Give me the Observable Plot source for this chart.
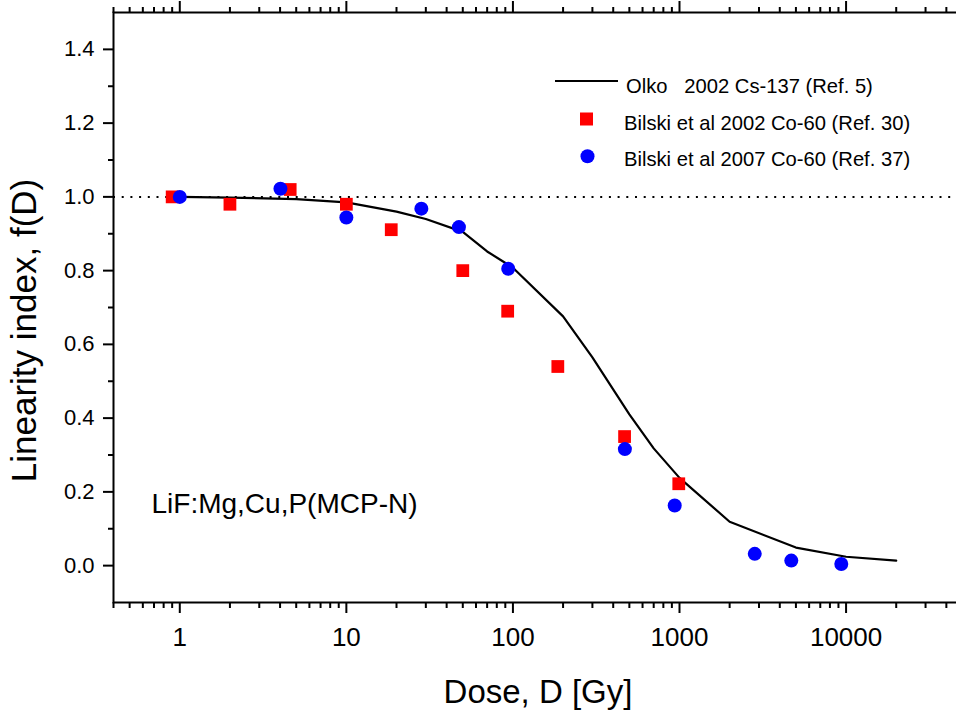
<!DOCTYPE html>
<html><head><meta charset="utf-8">
<script src="https://cdn.jsdelivr.net/npm/d3@7"></script>
<script src="https://cdn.jsdelivr.net/npm/@observablehq/plot@0.6"></script>
<style>
html,body{margin:0;padding:0;background:#fff;overflow:hidden}
#chart svg{display:block;overflow:hidden}
</style></head><body><div id="chart"></div>
<script>
// Olko 2002 Cs-137 (Ref. 5) — curve
const olkoDose = [1, 2, 5, 10, 20, 30, 50, 70, 100, 200, 300, 500, 700, 1000, 2000, 5000, 10000, 20000];
const olkoF    = [1.0, 0.998, 0.994, 0.985, 0.960, 0.940, 0.905, 0.852, 0.808, 0.676, 0.565, 0.41, 0.318, 0.238, 0.119, 0.049, 0.024, 0.0136];
// Bilski et al 2002 Co-60 (Ref. 30) — red squares
const bilski02Dose = [0.9, 2, 4.6, 10, 18.6, 50, 93, 186, 468, 990];
const bilski02F    = [1.0, 0.98, 1.02, 0.98, 0.911, 0.80, 0.69, 0.54, 0.35, 0.222];
// Bilski et al 2007 Co-60 (Ref. 37) — blue circles
const bilski07Dose = [1, 4.02, 10, 28.2, 47.4, 93.7, 470, 936, 2830, 4690, 9360];
const bilski07F    = [1.0, 1.022, 0.944, 0.968, 0.918, 0.805, 0.316, 0.163, 0.032, 0.0136, 0.0046];

const seriesNames = ["Olko   2002 Cs-137 (Ref. 5)", "Bilski et al 2002 Co-60 (Ref. 30)", "Bilski et al 2007 Co-60 (Ref. 37)"];
const xTitle = "Dose, D [Gy]";
const yTitle = "Linearity index, f(D)";
const note = "LiF:Mg,Cu,P(MCP-N)";

const majorX = [1, 10, 100, 1000, 10000];
const majorY = [0, 0.2, 0.4, 0.6, 0.8, 1.0, 1.2, 1.4];
const minorY = [0.1, 0.3, 0.5, 0.7, 0.9, 1.1, 1.3];
const minorX = [];
for (const p of [0.1, 1, 10, 100, 1000, 10000]) for (let m = 2; m <= 9; m++) {
  const v = +(m * p).toPrecision(3);
  if (v >= 0.4 && v <= 50000) minorX.push(v);
}

const olko = olkoDose.map((d, i) => ({dose: d, f: olkoF[i]}));
const b02 = bilski02Dose.map((d, i) => ({dose: d, f: bilski02F[i]}));
const b07 = bilski07Dose.map((d, i) => ({dose: d, f: bilski07F[i]}));

const FONT = "'Liberation Sans', Arial, Helvetica, sans-serif";
const blank = () => "";

const chart = Plot.plot({
  width: 956, height: 715,
  marginLeft: 113, marginRight: -6, marginTop: 12, marginBottom: 113,
  style: {fontFamily: FONT, background: "white", color: "black"},
  x: {type: "log", domain: [0.4, 50000], label: null},
  y: {domain: [-0.1, 1.5], label: null},
  marks: [
    Plot.ruleY([1], {stroke: "black", strokeWidth: 2, strokeDasharray: "2,6.7"}),
    Plot.line(olko, {x: "dose", y: "f", stroke: "black", strokeWidth: 2.2}),
    Plot.dot(b02, {x: "dose", y: "f", symbol: "square", r: 7.2, fill: "#ff0000", stroke: "none"}),
    Plot.dot(b07, {x: "dose", y: "f", symbol: "circle", r: 7, fill: "#0000ff", stroke: "none"}),
    Plot.frame({stroke: "black", strokeWidth: 2}),
    Plot.axisX({ticks: majorX, tickSize: 11, tickPadding: 14, tickFormat: d => String(d), fontSize: 26, strokeWidth: 2, label: null}),
    Plot.axisX({ticks: minorX, tickSize: 6, tickFormat: blank, strokeWidth: 2, label: null}),
    Plot.axisX({anchor: "top", ticks: majorX, tickSize: 12, tickFormat: blank, strokeWidth: 2, label: null}),
    Plot.axisX({anchor: "top", ticks: minorX, tickSize: 6, tickFormat: blank, strokeWidth: 2, label: null}),
    Plot.axisY({ticks: majorY, tickSize: 10, tickPadding: 9, tickFormat: d3.format(".1f"), fontSize: 22, strokeWidth: 2, label: null}),
    Plot.axisY({ticks: minorY, tickSize: 5, tickFormat: blank, strokeWidth: 2, label: null}),
    Plot.text([xTitle], {text: d => d, frameAnchor: "bottom", dy: 90, textAnchor: "middle", lineAnchor: "middle", fontSize: 33}),
    Plot.text([yTitle], {text: d => d, frameAnchor: "left", dx: -89, dy: 23, rotate: -90, textAnchor: "middle", lineAnchor: "middle", fontSize: 35}),
    Plot.text([note], {text: d => d, frameAnchor: "bottom-left", dx: 38, dy: -98, textAnchor: "start", lineAnchor: "middle", fontSize: 28})
  ]
});
document.getElementById("chart").appendChild(chart);

// legend (inside plot area, top right)
const svg = d3.select(chart);
const lg = svg.append("g").attr("font-family", FONT).attr("font-size", 20.2).attr("fill", "black").attr("text-anchor", "start");
lg.append("line").attr("x1", 555).attr("x2", 618).attr("y1", 81).attr("y2", 81).attr("stroke", "black").attr("stroke-width", 2.2);
lg.append("rect").attr("x", 580).attr("y", 112.5).attr("width", 13).attr("height", 13).attr("fill", "#ff0000");
lg.append("circle").attr("cx", 587.5).attr("cy", 156.2).attr("r", 7).attr("fill", "#0000ff");
const ys = [92.5, 129.5, 166];
const xs = [626, 624, 624];
seriesNames.forEach((s, i) => {
  lg.append("text").attr("x", xs[i]).attr("y", ys[i]).attr("text-anchor", "start").style("white-space", "pre").attr("xml:space", "preserve").text(s);
});
</script></body></html>
